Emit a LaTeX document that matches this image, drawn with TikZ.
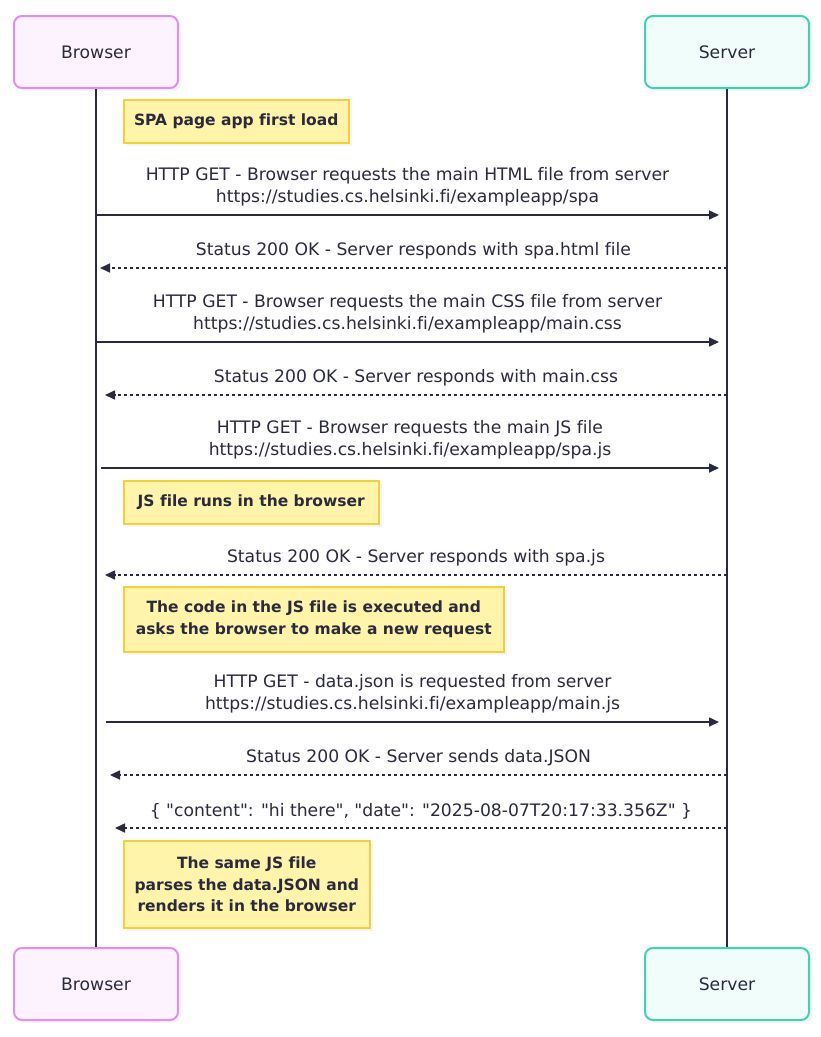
\documentclass[tikz,border=0pt]{standalone}
\usepackage{fontspec}
\setmainfont{DejaVu Sans}[Ligatures={TeXOff,CommonOff}]
\usetikzlibrary{arrows.meta,shadows}
\definecolor{ink}{HTML}{2A2A3E}
\definecolor{browserline}{HTML}{E58CF2}
\definecolor{browserfill}{HTML}{FDF3FE}
\definecolor{serverline}{HTML}{3FD3B6}
\definecolor{serverfill}{HTML}{F0FDFA}
\definecolor{noteline}{HTML}{F3CF3A}
\definecolor{notefill}{HTML}{FFF4AA}

\begin{document}
\begin{tikzpicture}[x=1pt,y=-1pt]
    \tikzstyle{every node}=[font=\fontsize{17.2}{22}\selectfont,text=ink,align=center]
    \tikzstyle{actor}=[draw,rounded corners=8pt,line width=2pt,minimum width=164pt,
                       minimum height=72pt,
                       drop shadow={shadow xshift=3pt,shadow yshift=-3pt,fill=black!8}]
    \tikzstyle{browserbox}=[actor,draw=browserline,fill=browserfill]
    \tikzstyle{serverbox}=[actor,draw=serverline,fill=serverfill]
    \tikzstyle{note}=[draw=noteline,fill=notefill,line width=1.5pt,anchor=north west,
                      font=\bfseries\fontsize{15.5}{21.5}\selectfont,
                      drop shadow={shadow xshift=3pt,shadow yshift=-3pt,fill=black!8}]
    \tikzstyle{call}=[ink,line width=1.6pt,-{Triangle[length=10pt,width=9pt]}]
    \tikzstyle{reply}=[call,dash pattern=on 3pt off 3pt]
    \tikzstyle{msg}=[midway,above=5pt]

    \useasboundingbox (0,0) rectangle (820,1037);

    % Participants at the top and the bottom, joined by their lifelines
    \node[browserbox] (browser) at (96,52) {Browser};
    \node[serverbox] (server) at (727,52) {Server};
    \node[browserbox] (browserEnd) at (96,984) {Browser};
    \node[serverbox] (serverEnd) at (727,984) {Server};
    \draw[ink,line width=2pt] (browser) -- (browserEnd);
    \draw[ink,line width=2pt] (server) -- (serverEnd);

    % First load of the page
    \node[note,minimum width=225pt,minimum height=43pt] (firstload) at (123,99)
        {SPA page app first load};

    \coordinate (b1) at (96,215);  \coordinate (s1) at (719,215);
    \draw[call] (b1) -- (s1) node[msg] (html)
        {HTTP GET - Browser requests the main HTML file from server\\
         https://studies.cs.helsinki.fi/exampleapp/spa};
    \coordinate (s2) at (727,268); \coordinate (b2) at (100,268);
    \draw[reply] (s2) -- (b2) node[msg] (htmlok)
        {Status 200 OK - Server responds with spa.html file};

    % The style sheet
    \coordinate (b3) at (96,342);  \coordinate (s3) at (719,342);
    \draw[call] (b3) -- (s3) node[msg] (css)
        {HTTP GET - Browser requests the main CSS file from server\\
         https://studies.cs.helsinki.fi/exampleapp/main.css};
    \coordinate (s4) at (727,395); \coordinate (b4) at (105,395);
    \draw[reply] (s4) -- (b4) node[msg] (cssok)
        {Status 200 OK - Server responds with main.css};

    % The script
    \coordinate (b5) at (101,468); \coordinate (s5) at (719,468);
    \draw[call] (b5) -- (s5) node[msg] (js)
        {HTTP GET - Browser requests the main JS file\\
         https://studies.cs.helsinki.fi/exampleapp/spa.js};
    \node[note,minimum width=255pt,minimum height=43pt] (jsruns) at (123,480)
        {JS file runs in the browser};
    \coordinate (s6) at (727,575); \coordinate (b6) at (105,575);
    \draw[reply] (s6) -- (b6) node[msg] (jsok)
        {Status 200 OK - Server responds with spa.js};
    \node[note,minimum width=380pt,minimum height=65pt] (executed) at (123,586)
        {The code in the JS file is executed and\\asks the browser to make a new request};

    % The data
    \coordinate (b7) at (106,722); \coordinate (s7) at (719,722);
    \draw[call] (b7) -- (s7) node[msg] (data)
        {HTTP GET - data.json is requested from server\\
         https://studies.cs.helsinki.fi/exampleapp/main.js};
    \coordinate (s8) at (727,775); \coordinate (b8) at (110,775);
    \draw[reply] (s8) -- (b8) node[msg] (dataok)
        {Status 200 OK - Server sends data.JSON};
    \coordinate (s9) at (727,828); \coordinate (b9) at (115,828);
    \draw[reply] (s9) -- (b9) node[msg] (json)
        {\{ "content": "hi there", "date": "2025-08-07T20:17:33.356Z" \}};
    \node[note,minimum width=246pt,minimum height=87pt] (render) at (123,840)
        {The same JS file\\parses the data.JSON and\\renders it in the browser};
\end{tikzpicture}
\end{document}
